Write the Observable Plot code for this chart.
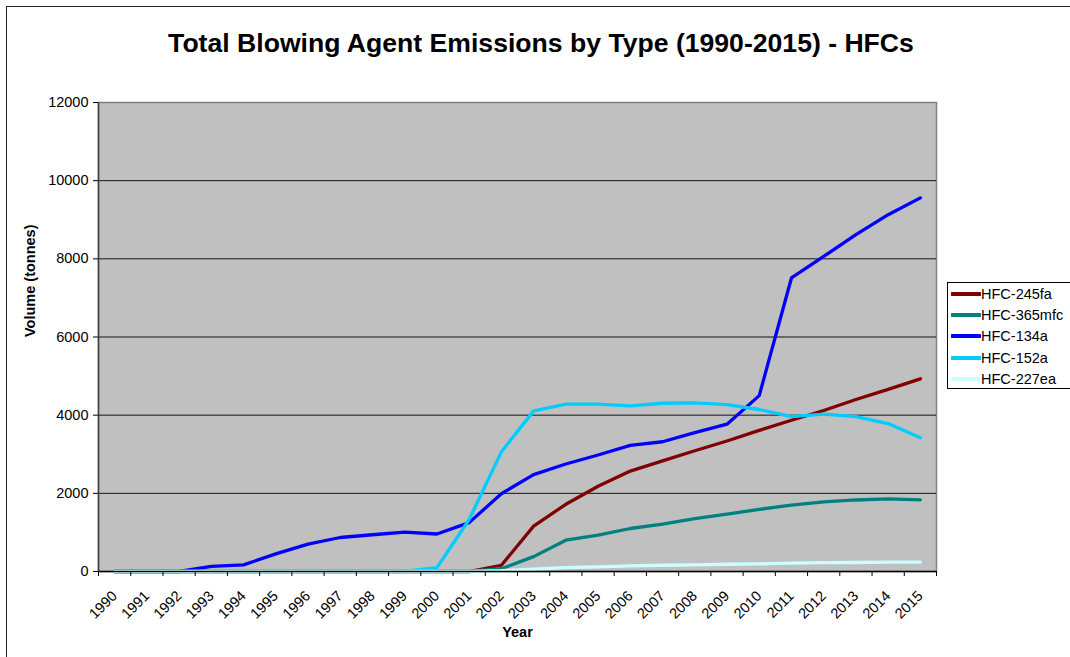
<!DOCTYPE html>
<html>
<head>
<meta charset="utf-8">
<script src="https://cdn.jsdelivr.net/npm/d3@7"></script>
<script src="https://cdn.jsdelivr.net/npm/@observablehq/plot@0.6"></script>
<style>
  html, body { margin: 0; padding: 0; background: #fff; }
  body { width: 1070px; height: 657px; position: relative; overflow: hidden; font-family: "Liberation Sans", Arial, sans-serif; }
  #border { position: absolute; left: 6px; top: 6px; width: 1100px; height: 700px; border: 1.5px solid #222; box-sizing: border-box; }
  #title { position: absolute; left: 0; width: 1082px; top: 30px; text-align: center; font-size: 26.6px; line-height: 26.6px; font-weight: bold; color: #000; }
  #chart { position: absolute; left: 0; top: 0; }
  #legend { position: absolute; left: 947px; top: 282px; width: 140px; height: 107px; border: 1px solid #000; box-sizing: border-box; background: #fff; }
  .row { position: absolute; left: 3px; height: 20px; display: flex; align-items: center; font-size: 14.5px; color: #000; }
  .row svg { margin-right: 0px; }
</style>
</head>
<body>
<div id="border"></div>
<div id="chart"></div>
<div id="title">Total Blowing Agent Emissions by Type (1990-2015) - HFCs</div>
<div id="legend"></div>
<script>
// ---- data ----
const years = [1990, 1991, 1992, 1993, 1994, 1995, 1996, 1997, 1998, 1999, 2000, 2001, 2002,
               2003, 2004, 2005, 2006, 2007, 2008, 2009, 2010, 2011, 2012, 2013, 2014, 2015];
const seriesNames = ["HFC-245fa", "HFC-365mfc", "HFC-134a", "HFC-152a", "HFC-227ea"];
const seriesColors = ["#800000", "#008080", "#0000ff", "#00ccff", "#ccffff"];
const hfc245fa  = [0, 0, 0, 0, 0, 0, 0, 0, 0, 0, 0, 0, 160, 1160, 1720, 2180, 2570, 2830, 3090, 3340, 3610, 3870, 4120, 4400, 4660, 4930];
const hfc365mfc = [0, 0, 0, 0, 0, 0, 0, 0, 0, 0, 0, 0, 70, 380, 800, 930, 1100, 1215, 1350, 1470, 1590, 1700, 1780, 1830, 1860, 1835];
const hfc134a   = [0, 0, 0, 130, 170, 450, 700, 870, 940, 1005, 960, 1250, 1990, 2480, 2750, 2980, 3225, 3320, 3555, 3770, 4500, 7510, 8060, 8620, 9130, 9560];
const hfc152a   = [0, 0, 0, 0, 0, 0, 0, 0, 0, 0, 100, 1330, 3060, 4110, 4280, 4280, 4240, 4305, 4315, 4270, 4145, 3960, 4025, 3960, 3785, 3420];
const hfc227ea  = [0, 0, 0, 0, 0, 0, 0, 0, 0, 0, 0, 0, 20, 60, 100, 120, 145, 160, 170, 185, 195, 212, 228, 230, 238, 238];
const yTicks = [0, 2000, 4000, 6000, 8000, 10000, 12000];
const yTitle = "Volume (tonnes)";
const xTitle = "Year";

const seriesValues = [hfc245fa, hfc365mfc, hfc134a, hfc152a, hfc227ea];
const data = seriesNames.flatMap((name, i) =>
  years.map((year, j) => ({series: name, year, value: seriesValues[i][j]})));
const boundaries = years.map(y => y - 0.5).concat([years[years.length - 1] + 0.5]);
const xDomain = [boundaries[0], boundaries[boundaries.length - 1]];

const chart = Plot.plot({
  width: 1070,
  height: 657,
  marginLeft: 98,
  marginRight: 134,
  marginTop: 102,
  marginBottom: 86,
  style: {background: "transparent", fontFamily: "'Liberation Sans', Arial, sans-serif", fontSize: "14.5px", color: "#000", overflow: "visible"},
  x: {domain: xDomain, label: null},
  y: {domain: [0, 12000], label: null},
  color: {domain: seriesNames, range: seriesColors},
  marks: [
    Plot.frame({fill: "#c0c0c0", stroke: "#808080", strokeWidth: 1.5}),
    Plot.gridY({ticks: yTicks.slice(1, -1), stroke: "#000", strokeOpacity: 0.9, strokeWidth: 1}),
    Plot.line(data, {x: "year", y: "value", stroke: "series", z: "series", strokeWidth: 3.3, strokeLinejoin: "round"}),
    Plot.ruleX([xDomain[0]], {stroke: "#404040", strokeWidth: 1.5}),
    Plot.ruleY([0], {stroke: "#000", strokeWidth: 1.5}),
    Plot.axisY({ticks: yTicks, tickSize: 5, tickPadding: 5, tickFormat: d => String(d), label: null, stroke: "#000"}),
    Plot.axisX({ticks: boundaries, tickSize: 5, tickFormat: () => "", label: null, stroke: "#000"}),
    Plot.axisX({ticks: years, tickSize: 0, tickPadding: 22, tickRotate: -45, tickFormat: d => String(d), label: null}),
    Plot.text([yTitle], {frameAnchor: "left", dx: -68, rotate: -90, fontWeight: "bold", fontSize: 14.5, fill: "#000"}),
    Plot.text([xTitle], {frameAnchor: "bottom", dy: 65, fontWeight: "bold", fontSize: 14.5, fill: "#000"})
  ]
});
document.getElementById("chart").appendChild(chart);

// legend
const legend = document.getElementById("legend");
seriesNames.forEach((name, i) => {
  const row = document.createElement("div");
  row.className = "row";
  row.style.top = (0.5 + i * 21.4) + "px";
  row.innerHTML = `<svg width="30" height="8"><line x1="1" y1="4" x2="29" y2="4" stroke="${seriesColors[i]}" stroke-width="4" stroke-linecap="round"/></svg><span>${name}</span>`;
  legend.appendChild(row);
});
</script>
</body>
</html>
